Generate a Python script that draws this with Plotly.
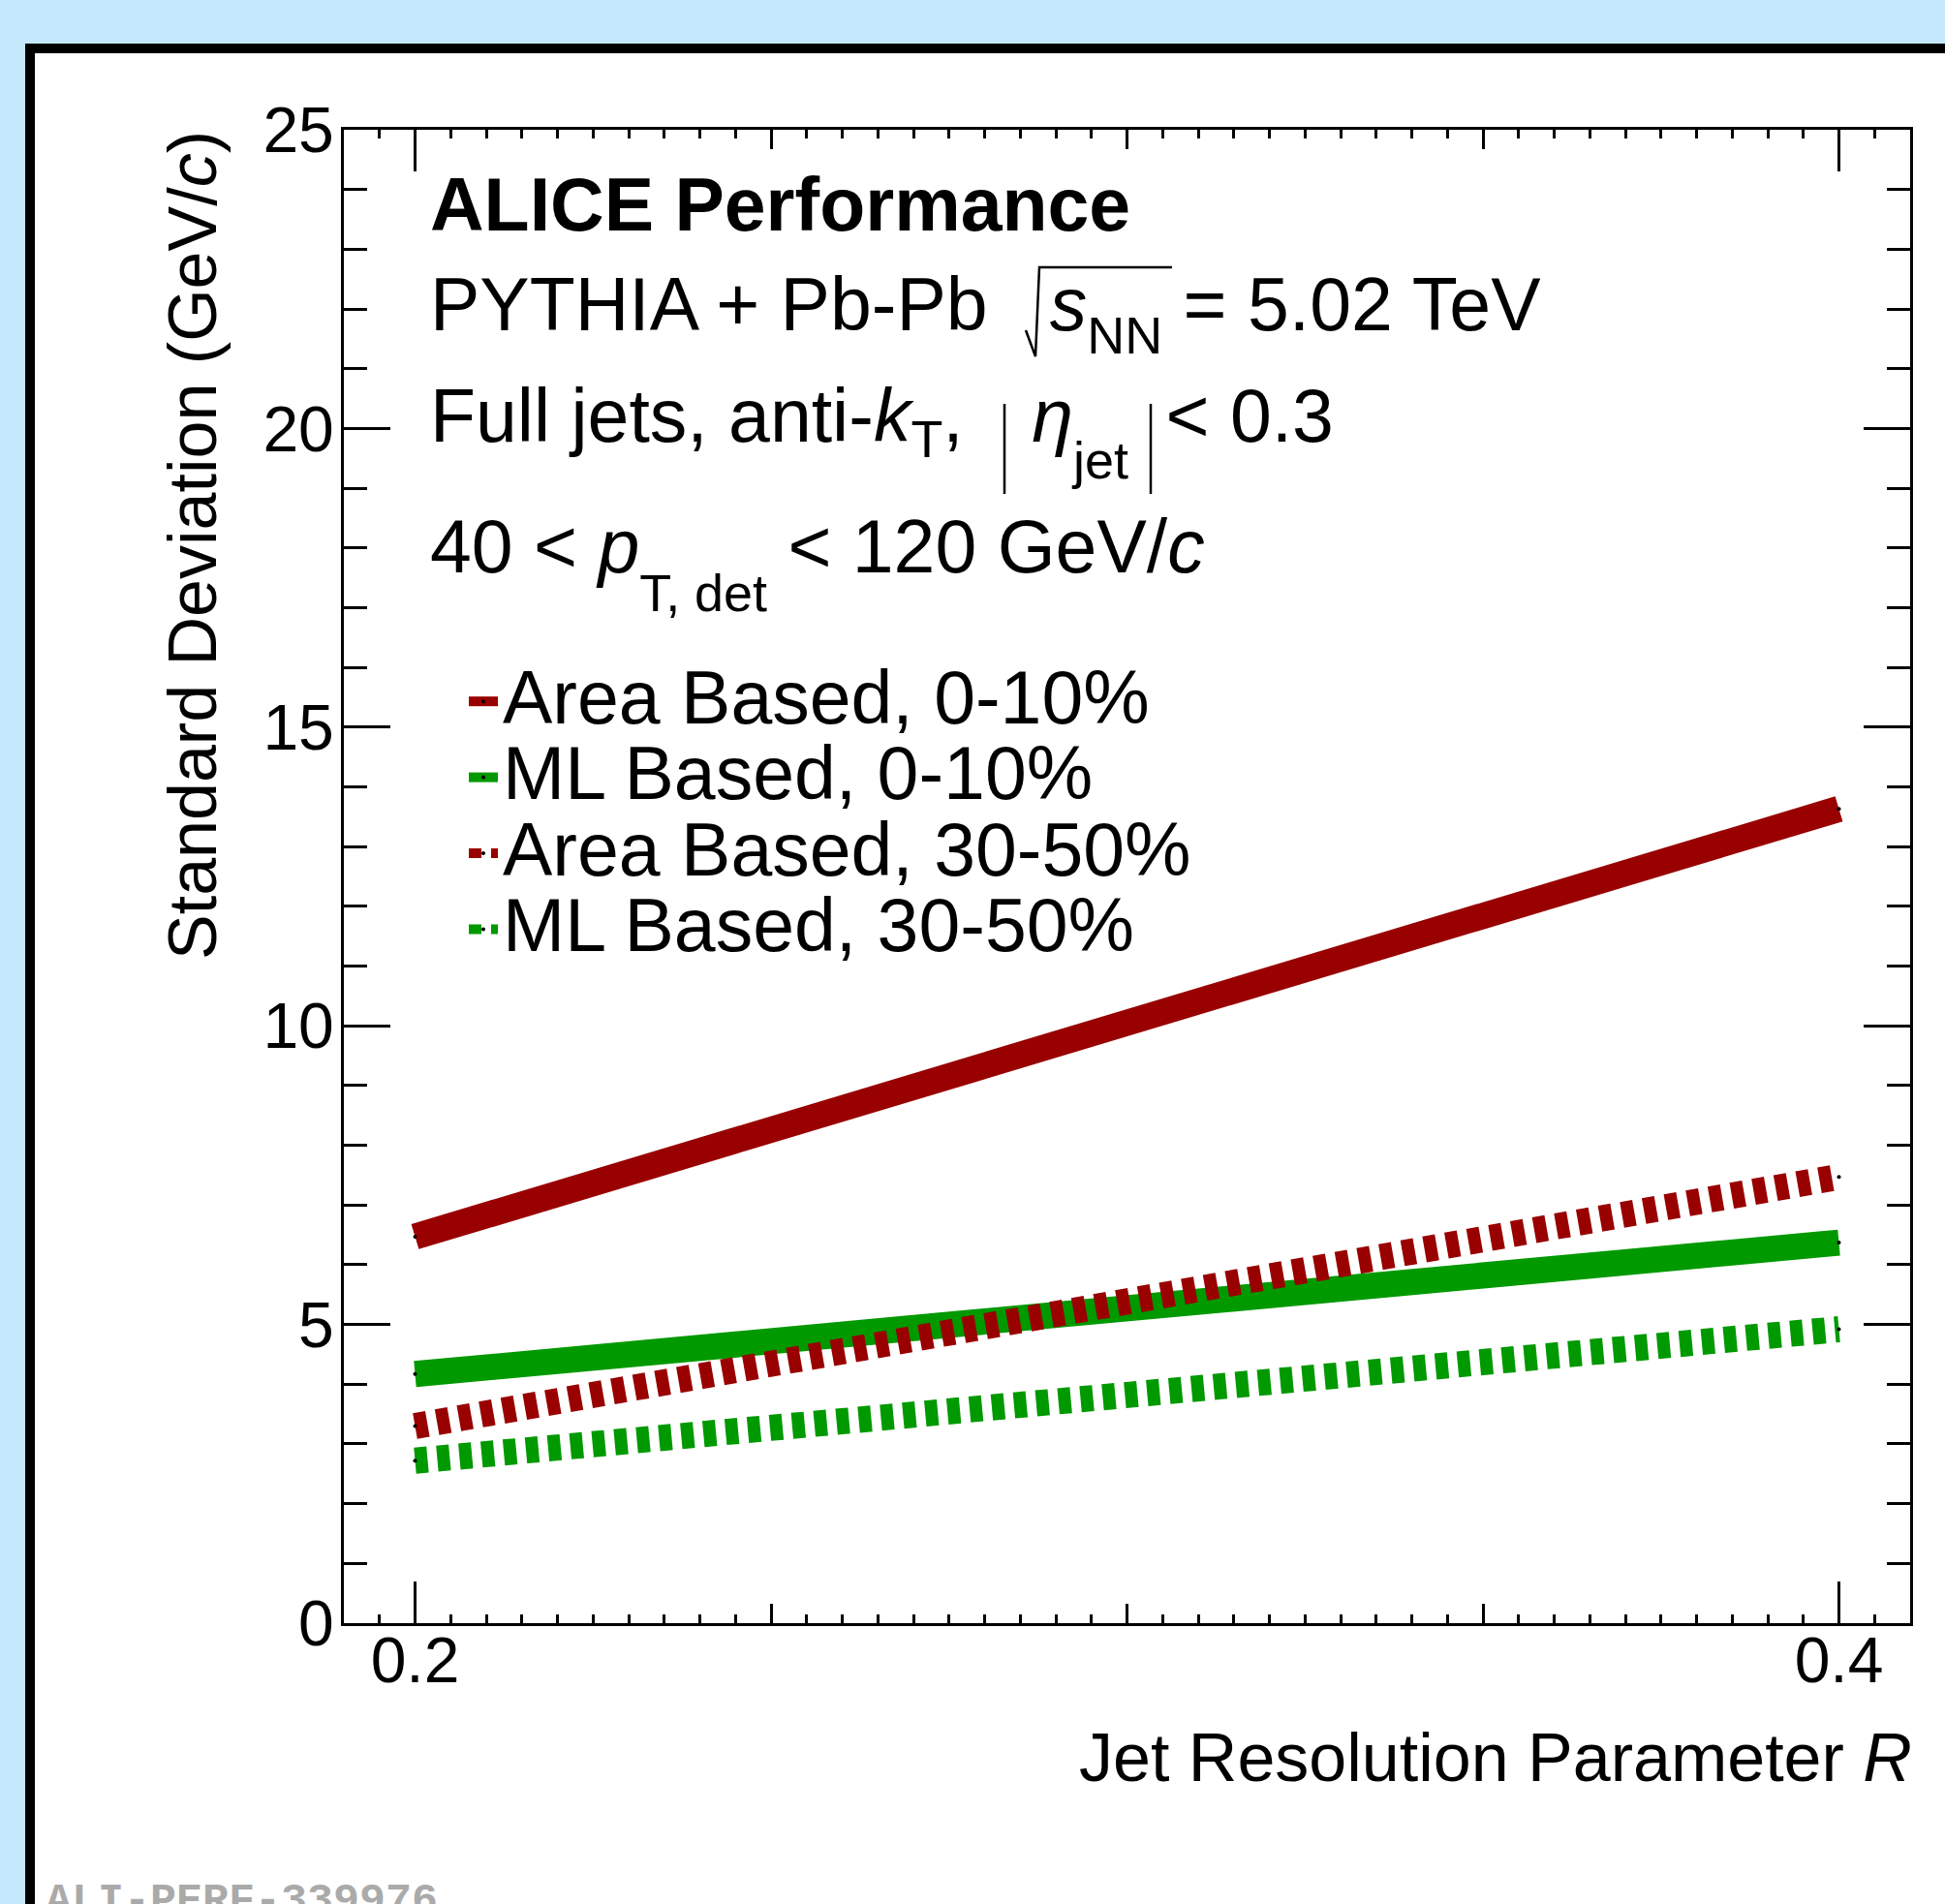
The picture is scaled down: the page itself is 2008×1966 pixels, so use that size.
import plotly.graph_objects as go

# ---- data ----
R = [0.2, 0.4]
area_0_10 = [6.47, 13.63]
ml_0_10 = [4.17, 6.37]
area_30_50 = [3.30, 7.47]
ml_30_50 = [2.72, 4.92]

series_names = ["Area Based, 0-10%", "ML Based, 0-10%", "Area Based, 30-50%", "ML Based, 30-50%"]
series_values = [area_0_10, ml_0_10, area_30_50, ml_30_50]
series_colors = ["#990000", "#009900", "#990000", "#009900"]
series_dash = ["solid", "solid", "13px,10px", "13px,10px"]

x_label_vals = [0.2, 0.4]
x_label_text = ["0.2", "0.4"]
x_mid_vals = [0.25, 0.3, 0.35]

FONT = "Liberation Sans, Arial, Helvetica, sans-serif"
W, H = 2008, 1966
L, RM, T, B = 355, 36, 134, 290

fig = go.Figure()
for name, vals, col, dash in zip(series_names, series_values, series_colors, series_dash):
    fig.add_trace(go.Scatter(
        x=R, y=vals, mode="lines+markers",
        name=f"<span style='font-size:77px'>{name}</span>",
        line=dict(color=col, width=27, dash=dash),
        marker=dict(color="black", size=4),
    ))
# empty trace so the overlay axis (medium ticks) is drawn
fig.add_trace(go.Scatter(x=[], y=[], xaxis="x2", showlegend=False, hoverinfo="skip"))

pw = W - L - RM
ph = H - T - B

def px2x(px):
    return (px - L) / pw

def py2y(py):
    return (H - B - py) / ph

axis_common = dict(
    showline=True, linecolor="black", linewidth=3, mirror="ticks",
    ticks="inside", tickcolor="black", tickwidth=3,
    showgrid=False, zeroline=False,
    tickfont=dict(family=FONT, size=66, color="black"),
)

fig.update_layout(
    width=W, height=H,
    margin=dict(l=L, r=RM, t=T, b=B, pad=0),
    paper_bgcolor="#C6E8FD",
    plot_bgcolor="white",
    font=dict(family=FONT, color="black"),
    showlegend=True,
    legend=dict(
        x=px2x(479), y=py2y(680), xanchor="left", yanchor="top",
        bgcolor="rgba(0,0,0,0)", borderwidth=0,
        font=dict(family=FONT, size=58, color="black"),
        itemwidth=30, tracegroupgap=0,
    ),
    xaxis=dict(
        range=[0.19, 0.41], tickmode="array", tickvals=x_label_vals, ticktext=x_label_text,
        ticklen=43, ticklabelstandoff=-21,
        minor=dict(tickmode="linear", tick0=0.2, dtick=0.005, ticklen=9, tickwidth=3,
                   tickcolor="black", ticks="inside"),
        **axis_common,
    ),
    xaxis2=dict(
        overlaying="x", matches="x", anchor="y", side="bottom",
        tickmode="array", tickvals=x_mid_vals, ticklen=20, ticks="inside",
        tickwidth=3, tickcolor="black", showticklabels=False, mirror="ticks",
        showline=False, showgrid=False, zeroline=False,
    ),
    yaxis=dict(
        range=[0, 25], tickmode="linear", tick0=0, dtick=5, ticklen=48,
        ticklabelstandoff=-6,
        minor=dict(tickmode="linear", tick0=0, dtick=1, ticklen=24, tickwidth=3,
                   tickcolor="black", ticks="inside"),
        **axis_common,
    ),
)

# outer frame (white panel with thick black border) on light-blue page
fig.add_shape(type="rect", xref="paper", yref="paper",
              x0=px2x(31), x1=1.3, y0=py2y(50), y1=-0.4,
              line=dict(color="black", width=10), fillcolor="white", layer="below")

def deep(s, px):
    return f"<sub><span style='baseline-shift:-{px}px'>{s}</span></sub>"

texts = [
    ("<b>ALICE Performance</b>", 211),
    ("PYTHIA + Pb-Pb \u2007<i>s</i>" + deep("NN", 8) + " = 5.02 TeV", 323),
    ("Full jets, anti-<i>k</i><sub>T</sub>, \u2007\u200a<i>η</i>" + deep("jet", 22) + "\u2002< 0.3", 446),
    ("40 < <i>p</i>" + deep("T, det", 24) + " < 120 GeV/<i>c</i>", 581),
]
for txt, ypx in texts:
    fig.add_annotation(text=txt, xref="paper", yref="paper", x=px2x(442), y=py2y(ypx),
                       xanchor="left", yanchor="middle", showarrow=False,
                       font=dict(family=FONT, size=77, color="black"))

# square-root sign over s_NN and the |eta| bars (ROOT TLatex style)
def pth(points):
    return "M" + " L".join(f"{px2x(a):.5f},{py2y(b):.5f}" for a, b in points)

fig.add_shape(type="path", xref="paper", yref="paper",
              path=pth([(1059, 341), (1069, 368), (1073, 276), (1210, 276)]),
              line=dict(color="black", width=2.5))
for bx in (1037, 1188):
    fig.add_shape(type="line", xref="paper", yref="paper",
                  x0=px2x(bx), x1=px2x(bx), y0=py2y(417), y1=py2y(510),
                  line=dict(color="black", width=2.5))

# axis titles (ROOT style: aligned to the axis end)
fig.add_annotation(text="Jet Resolution Parameter <i>R</i>", xref="paper", yref="paper",
                   x=px2x(1976), y=py2y(1815), xanchor="right", yanchor="middle",
                   showarrow=False, font=dict(family=FONT, size=70, color="black"))
fig.add_annotation(text="Standard Deviation (GeV/<i>c</i>)", xref="paper", yref="paper",
                   x=px2x(199), y=py2y(133), xanchor="center", yanchor="top", textangle=-90,
                   showarrow=False, font=dict(family=FONT, size=70, color="black"))

# figure id
fig.add_annotation(text="<b>ALI-PERF-339976</b>", xref="paper", yref="paper",
                   x=px2x(45), y=py2y(1936), xanchor="left", yanchor="top",
                   showarrow=False, font=dict(family="Liberation Mono, Courier New, monospace",
                                              size=45, color="#AAAAAA"))

fig.write_html("out.html", config={"displayModeBar": False},
               post_script="document.body.style.margin='0px';document.body.style.overflow='hidden';")
